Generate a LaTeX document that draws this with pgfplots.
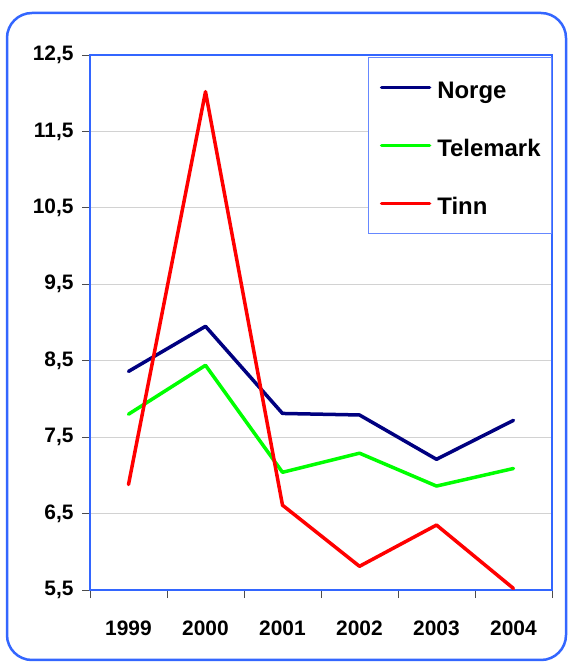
\documentclass[border=0pt]{standalone}
\usepackage{fontspec}
\setmainfont{Liberation Sans}
\usepackage{pgfplots}
\pgfplotsset{compat=1.18}
\definecolor{frameblue}{HTML}{3366FF}
\definecolor{legendblue}{HTML}{6688FF}
\definecolor{navyline}{HTML}{000080}
\definecolor{greenline}{HTML}{00FF00}
\definecolor{redline}{HTML}{FF0000}
\begin{document}
\begin{tikzpicture}
\useasboundingbox (0bp,0bp) rectangle (569bp,663bp);
\draw[frameblue, line width=2.5bp, rounded corners=25bp] (7bp,3bp) rectangle (566bp,650bp);
\begin{axis}[
  at={(90bp,73bp)}, anchor=south west,
  scale only axis, width=462bp, height=535bp,
  xmin=-0.5, xmax=5.5, ymin=5.5, ymax=12.5,
  xtick={-0.5,0.5,1.5,2.5,3.5,4.5,5.5},
  xticklabels={1999,2000,2001,2002,2003,2004},
  x tick label as interval,
  ytick={5.5,6.5,7.5,8.5,9.5,10.5,11.5,12.5},
  xtick pos=bottom, ytick pos=left,
  tick align=outside, major tick length=8bp,
  tick style={black!70, line width=0.8bp},
  ymajorgrids, grid style={gray!35, line width=0.8bp},
  axis line style={frameblue, line width=1.6bp},
  every tick label/.append style={font=\fontsize{21}{21}\selectfont\bfseries},
  yticklabel style={/pgf/number format/fixed, /pgf/number format/fixed zerofill, /pgf/number format/precision=1, /pgf/number format/use comma, /pgf/number format/assume math mode=true, xshift=-5bp},
  xticklabel style={yshift=-19bp},
  legend cell align=left,
  legend style={at={(1,1)}, anchor=north east, yshift=-2bp, draw=legendblue, line width=0.8bp,
    font=\fontsize{24}{24}\selectfont\bfseries,
    nodes={inner sep=0pt, text height=22bp, text depth=0bp},
    inner xsep=11bp, inner ysep=19bp, row sep=36bp, column sep=6bp},
  legend image code/.code={\draw[#1, line cap=round] (0bp,0bp) -- (48bp,0bp);},
]
\addplot[navyline, line width=3.5bp, line join=round, line cap=round] coordinates {(0,8.36) (1,8.95) (2,7.81) (3,7.79) (4,7.21) (5,7.72)};
\addlegendentry{Norge}
\addplot[greenline, line width=3.5bp, line join=round, line cap=round] coordinates {(0,7.80) (1,8.44) (2,7.04) (3,7.29) (4,6.86) (5,7.09)};
\addlegendentry{Telemark}
\addplot[redline, line width=3.5bp, line join=round, line cap=round] coordinates {(0,6.88) (1,12.02) (2,6.61) (3,5.81) (4,6.35) (5,5.52)};
\addlegendentry{Tinn}
\end{axis}
\end{tikzpicture}
\end{document}
